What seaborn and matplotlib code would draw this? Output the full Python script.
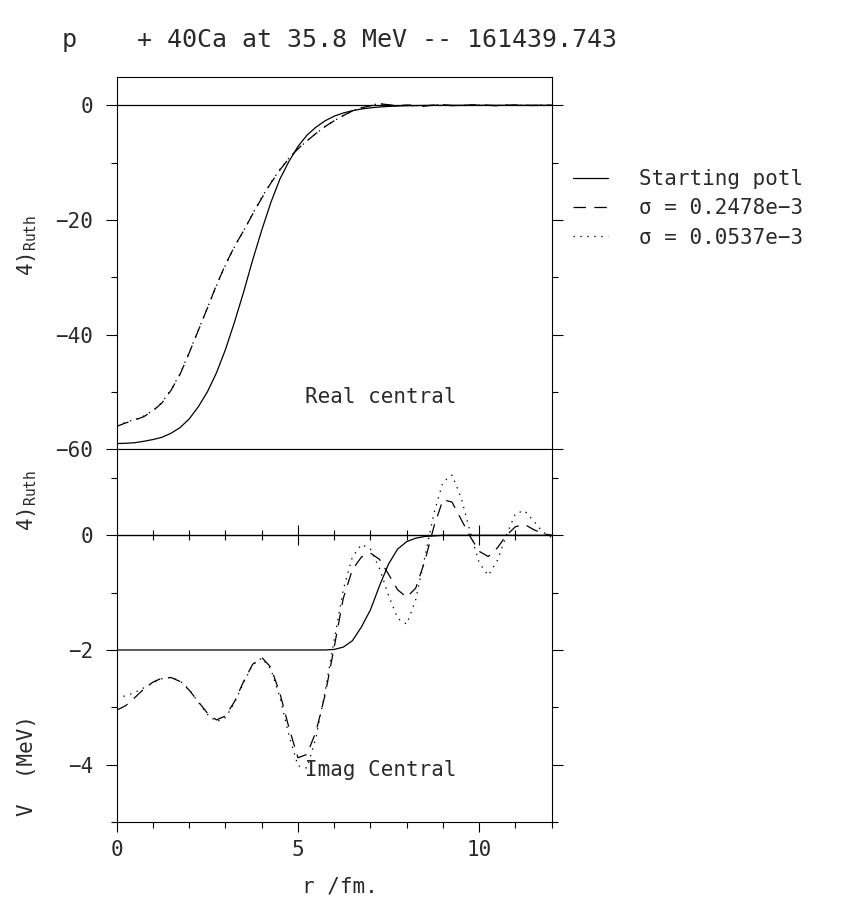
import numpy as np
import pandas as pd
import matplotlib
matplotlib.use("Agg")
import matplotlib.pyplot as plt
import seaborn as sns
from matplotlib.lines import Line2D
from matplotlib.ticker import FixedLocator, NullFormatter

# ---------------- data ----------------
title = "p    + 40Ca at 35.8 MeV -- 161439.743"
series_labels = ["Starting potl", "σ = 0.2478e\u22123", "σ = 0.0537e\u22123"]

r = np.arange(0, 12.001, 0.25)

# Real central potential (MeV)
real_start = [-59.0, -58.95, -58.85, -58.6, -58.3, -57.9, -57.2, -56.2, -54.7, -52.6,
              -50.0, -46.7, -42.6, -37.8, -32.6, -27.0, -21.8, -17.0, -12.9, -9.8,
              -7.2, -5.2, -3.8, -2.7, -1.9, -1.35, -0.95, -0.65, -0.45, -0.3,
              -0.2, -0.13, -0.08, -0.05, -0.03, -0.02, -0.01, 0.0, 0.0, 0.0,
              0.0, 0.0, 0.0, 0.0, 0.0, 0.0, 0.0, 0.0, 0.0]
real_s1 = [-56.0, -55.4, -54.9, -54.3, -53.3, -51.9, -49.7, -46.9, -43.2, -39.3,
           -35.4, -31.4, -27.8, -24.6, -21.9, -19.0, -16.2, -13.6, -11.3, -9.3,
           -7.6, -6.2, -4.9, -3.7, -2.7, -1.8, -1.0, -0.45, -0.1, 0.25,
           0.1, -0.1, 0.05, -0.1, -0.15, 0.05, 0.1, -0.05, -0.1, 0.05,
           0.1, 0.0, -0.1, 0.0, 0.05, 0.0, -0.05, 0.0, 0.0]
real_s2 = [-55.8, -55.3, -54.8, -54.2, -53.2, -51.8, -49.6, -46.8, -43.1, -39.2,
           -35.4, -31.5, -27.9, -24.7, -21.9, -18.9, -16.1, -13.5, -11.2, -9.2,
           -7.6, -6.2, -4.9, -3.7, -2.7, -1.8, -1.0, -0.4, 0.0, 0.3,
           0.05, -0.15, 0.1, -0.05, -0.2, 0.1, 0.05, -0.1, -0.05, 0.1,
           0.05, -0.05, -0.05, 0.05, 0.0, -0.05, 0.0, 0.05, 0.0]

# Imaginary central potential (MeV)
imag_start = [-2.0, -2.0, -2.0, -2.0, -2.0, -2.0, -2.0, -2.0, -2.0, -2.0,
              -2.0, -2.0, -2.0, -2.0, -2.0, -2.0, -2.0, -2.0, -2.0, -2.0,
              -2.0, -2.0, -2.0, -2.0, -1.99, -1.95, -1.84, -1.6, -1.3, -0.88,
              -0.5, -0.24, -0.11, -0.05, -0.02, -0.01, 0.0, 0.0, 0.0, 0.0,
              0.0, 0.0, 0.0, 0.0, 0.0, 0.0, 0.0, 0.0, 0.0]
imag_s1 = [-3.05, -2.97, -2.83, -2.68, -2.56, -2.49, -2.48, -2.55, -2.70, -2.90,
           -3.10, -3.22, -3.15, -2.90, -2.55, -2.25, -2.13, -2.30, -2.75, -3.35,
           -3.88, -3.82, -3.42, -2.78, -1.95, -1.10, -0.60, -0.38, -0.31, -0.42,
           -0.68, -0.95, -1.08, -0.92, -0.45, 0.15, 0.62, 0.58, 0.28, -0.02,
           -0.28, -0.37, -0.22, 0.0, 0.15, 0.19, 0.10, 0.03, 0.0]
imag_s2 = [-2.83, -2.80, -2.74, -2.66, -2.57, -2.50, -2.48, -2.54, -2.69, -2.91,
           -3.12, -3.25, -3.18, -2.92, -2.57, -2.26, -2.14, -2.33, -2.82, -3.48,
           -4.02, -4.06, -3.52, -2.72, -1.82, -0.95, -0.38, -0.16, -0.24, -0.58,
           -1.05, -1.45, -1.55, -1.12, -0.38, 0.38, 0.93, 1.05, 0.66, 0.06,
           -0.48, -0.70, -0.44, 0.0, 0.38, 0.43, 0.25, 0.06, -0.04]

# ---------------- styling ----------------
sns.set_theme(style="white")
plt.rcParams.update({
    "font.family": ["DejaVu Sans Mono", "DejaVu Sans"],
    "mathtext.default": "regular",
    "lines.scale_dashes": False,
    "axes.edgecolor": "black",
    "axes.linewidth": 0.8,
    "text.color": "#2a2a2a",
    "xtick.color": "black",
    "ytick.color": "black",
    "xtick.labelcolor": "#2a2a2a",
    "ytick.labelcolor": "#2a2a2a",
})

FS = 15
styles = ["-", (0, (9, 6)), (0, (1, 4))]
LW = 0.9

W, H = 847, 897
fig = plt.figure(figsize=(W / 100, H / 100), dpi=100)
left = 116.7 / W
width = 435.0 / W
ax1 = fig.add_axes([left, 1 - 449.3 / H, width, 372.7 / H])
ax2 = fig.add_axes([left, 1 - 822.0 / H, width, 372.7 / H])

for ax, ys in ((ax1, (real_start, real_s1, real_s2)), (ax2, (imag_start, imag_s1, imag_s2))):
    for y, ls in zip(ys, styles):
        df = pd.DataFrame({"r": r, "V": y})
        sns.lineplot(data=df, x="r", y="V", ax=ax, color="black", lw=LW,
                     sort=False, estimator=None)
        ax.lines[-1].set_linestyle(ls)
    ax.set_xlim(0, 12)
    ax.set_xlabel("")
    ax.set_ylabel("")
    for s in ax.spines.values():
        s.set_visible(True)
        s.set_color("black")
        s.set_linewidth(0.8)

# top panel
ax1.set_ylim(-60, 5)
ax1.axhline(0, color="black", lw=LW)
ax1.yaxis.set_major_locator(FixedLocator([-60, -40, -20, 0]))
ax1.yaxis.set_minor_locator(FixedLocator([-50, -30, -10]))
ax1.tick_params(axis="x", which="both", bottom=False, top=False,
                labelbottom=False, labeltop=False)
ax1.text(5.2, -50.8, "Real central", ha="left", va="center", fontsize=FS)

# bottom panel
ax2.set_ylim(-5, 1.5)
ax2.yaxis.set_major_locator(FixedLocator([-4, -2, 0]))
ax2.yaxis.set_minor_locator(FixedLocator([-5, -3, -1, 1]))
ax2.xaxis.set_major_locator(FixedLocator([0, 5, 10]))
ax2.xaxis.set_minor_locator(FixedLocator([1, 2, 3, 4, 6, 7, 8, 9, 11, 12]))
ax2.tick_params(axis="x", which="both", bottom=True, top=False, direction="out")
ax2.tick_params(axis="x", which="major", length=7.5, width=0.8, labelsize=FS, pad=5.5)
ax2.tick_params(axis="x", which="minor", length=4, width=0.8)
ax2.text(5.2, -4.09, "Imag Central", ha="left", va="center", fontsize=FS)

for ax in (ax1, ax2):
    ax.tick_params(axis="y", which="both", left=True, right=True, direction="out")
    ax.tick_params(axis="y", which="major", length=7.8, width=0.8, labelsize=FS, pad=9)
    ax.tick_params(axis="y", which="minor", length=4.3, width=0.8)

# zero line of the bottom panel, with crossing ticks
sec = ax2.secondary_xaxis(5 / 6.5)
sec.xaxis.set_major_locator(FixedLocator([5, 10]))
sec.xaxis.set_minor_locator(FixedLocator([1, 2, 3, 4, 6, 7, 8, 9, 11]))
sec.xaxis.set_major_formatter(NullFormatter())
sec.xaxis.set_minor_formatter(NullFormatter())
sec.tick_params(which="major", direction="inout", length=15, width=0.8, colors="black")
sec.tick_params(which="minor", direction="inout", length=7.5, width=0.8, colors="black")
for s in sec.spines.values():
    s.set_linewidth(1.0)
    s.set_color("black")

# legend
handles = [Line2D([], [], color="black", lw=LW, linestyle=ls) for ls in styles]
fig.legend(handles, series_labels, loc="upper left",
           bbox_to_anchor=(573 / W, 1 - 169 / H), frameon=False, fontsize=FS,
           handlelength=1.68, handletextpad=1.5, labelspacing=0.45,
           borderpad=0, borderaxespad=0)

# titles and axis labels
fig.text(62 / W, 1 - 40 / H, title, ha="left", va="center", fontsize=18)
fig.text(340 / W, 1 - 886 / H, "r /fm.", ha="center", va="center", fontsize=FS)
fig.text(27 / W, 1 - 245 / H, r"4)$_{Ruth}$", rotation=90, ha="center", va="center", fontsize=FS)
fig.text(27 / W, 1 - 500 / H, r"4)$_{Ruth}$", rotation=90, ha="center", va="center", fontsize=FS)
fig.text(27 / W, 1 - 765 / H, "V  (MeV)", rotation=90, ha="center", va="center", fontsize=FS)

fig.savefig("out.png", dpi=100, facecolor="white")
